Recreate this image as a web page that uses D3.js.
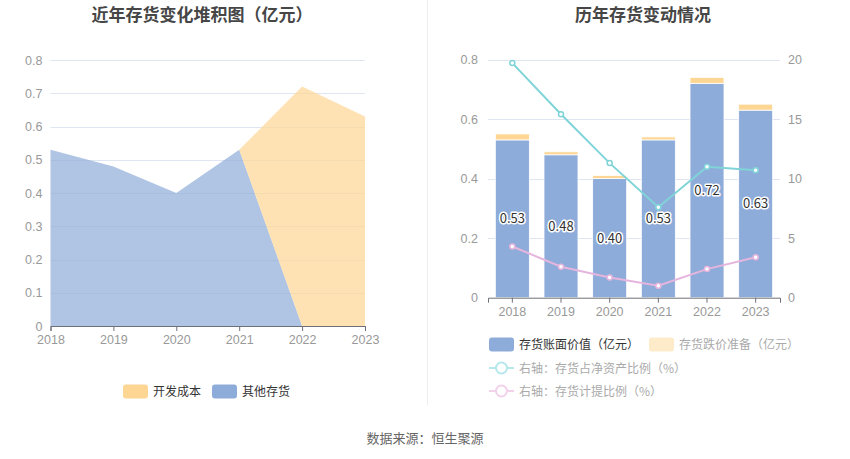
<!DOCTYPE html>
<html><head><meta charset="utf-8">
<script src="https://cdn.jsdelivr.net/npm/d3@7/dist/d3.min.js"></script>
<style>body{margin:0;background:#fff;font-family:"Noto Sans CJK SC","Noto Sans",sans-serif;}</style>
</head><body><svg id="c" width="850" height="459"></svg>
<script>
const years = ["2018","2019","2020","2021","2022","2023"];
// left stacked area (亿元)
const otherInv = [0.53,0.48,0.40,0.53,0,0];
const devCost = [0,0,0,0,0.72,0.63];
// right bars
const bookValue = [0.53,0.48,0.40,0.53,0.72,0.63];
const provision = [0.02,0.01,0.01,0.01,0.02,0.02];
const netAssetRatio = [19.7,15.4,11.3,7.6,11.0,10.7];
const provisionRatio = [4.3,2.6,1.7,1.0,2.4,3.4];
const leftTicks = [0,0.1,0.2,0.3,0.4,0.5,0.6,0.7,0.8];
const rightLTicks = [0,0.2,0.4,0.6,0.8];
const rightRTicks = [0,5,10,15,20];

const svg = d3.select("#c");
const FONT = '"Noto Sans CJK SC","Noto Sans",sans-serif';
const NUMF = '"Liberation Sans","Noto Sans",sans-serif';
const grid = "#e0e6f1", axisC = "#6e7079", lab = "#999";
const blue = "#8eacd9", orange = "#fdd694", cyan = "#80d4d8", pink = "#e6b5dd";

// titles
svg.append("text").attr("x",202).attr("y",21).attr("text-anchor","middle")
  .attr("font-size",17).attr("font-weight","bold").attr("fill","#464646").attr("font-family",FONT)
  .text("近年存货变化堆积图（亿元）");
svg.append("text").attr("x",643).attr("y",21).attr("text-anchor","middle")
  .attr("font-size",17).attr("font-weight","bold").attr("fill","#464646").attr("font-family",FONT)
  .text("历年存货变动情况");
// divider
svg.append("line").attr("x1",427.5).attr("x2",427.5).attr("y1",0).attr("y2",405).attr("stroke","#eeeeee");

// ---- LEFT ----
const xL = d3.scalePoint().domain(years).range([50.5,365]);
const yL = d3.scaleLinear().domain([0,0.8]).range([326,60]);
const gL = svg.append("g");
gL.selectAll("line.g").data(leftTicks.slice(1)).join("line")
  .attr("x1",50.5).attr("x2",365).attr("y1",d=>Math.round(yL(d))+0.5).attr("y2",d=>Math.round(yL(d))+0.5)
  .attr("stroke",grid);
const stackData = years.map((y,i)=>({year:y, other:otherInv[i], dev:devCost[i]}));
const series = d3.stack().keys(["other","dev"])(stackData);
const area = d3.area().x(d=>xL(d.data.year)).y0(d=>yL(d[0])).y1(d=>yL(d[1]));
const colorsL = {other:blue, dev:orange};
series.forEach(s=>{
  let pts = s;
  if (s.key==="dev") pts = s.filter((d,i)=>i>=3);
  gL.append("path").datum(pts).attr("d",area).attr("fill",colorsL[s.key]).attr("fill-opacity",0.7);
});
gL.append("g").attr("transform","translate(0,326)")
  .call(d3.axisBottom(xL).tickSize(5).tickPadding(4))
  .call(g=>{g.select(".domain").attr("stroke",axisC);g.selectAll(".tick line").attr("stroke",axisC);
    g.selectAll("text").attr("fill",lab).attr("font-size",12.5).attr("font-family",NUMF);});
gL.append("g").attr("transform","translate(50.5,0)")
  .call(d3.axisLeft(yL).tickValues(leftTicks).tickFormat(d=>d===0?"0":d3.format(".1f")(d)).tickSize(0).tickPadding(8))
  .call(g=>{g.select(".domain").remove();
    g.selectAll("text").attr("fill",lab).attr("font-size",12.5).attr("font-family",NUMF);});
// left legend
const legL = [{n:"开发成本",c:orange,x:123},{n:"其他存货",c:blue,x:212}];
legL.forEach(l=>{
  svg.append("rect").attr("x",l.x).attr("y",384.5).attr("width",25).attr("height",14).attr("rx",3).attr("fill",l.c);
  svg.append("text").attr("x",l.x+30).attr("y",395.5).attr("font-size",12).attr("fill","#333").attr("font-family",FONT).text(l.n);
});

// ---- RIGHT ----
const xR = d3.scaleBand().domain(years).range([488,780]);
const yR = d3.scaleLinear().domain([0,0.8]).range([297.7,59.5]);
const yR2 = d3.scaleLinear().domain([0,20]).range([297.7,59.5]);
const gR = svg.append("g");
gR.selectAll("line.g").data(rightLTicks.slice(1)).join("line")
  .attr("x1",488).attr("x2",780).attr("y1",d=>Math.round(yR(d))+0.5).attr("y2",d=>Math.round(yR(d))+0.5)
  .attr("stroke",grid);
const bw = 34;
years.forEach((y,i)=>{
  const cx = xR(y)+xR.bandwidth()/2;
  gR.append("rect").attr("x",cx-bw/2).attr("width",bw).attr("y",yR(bookValue[i])).attr("height",yR(0)-yR(bookValue[i]))
    .attr("fill",blue).attr("stroke","#fff").attr("stroke-width",0.8);
  gR.append("rect").attr("x",cx-bw/2).attr("width",bw).attr("y",yR(bookValue[i]+provision[i])).attr("height",yR(bookValue[i])-yR(bookValue[i]+provision[i]))
    .attr("fill",orange).attr("stroke","#fff").attr("stroke-width",0.8);
});
gR.append("g").attr("transform","translate(0,297.7)")
  .call(d3.axisBottom(xR).tickSize(5).tickPadding(4))
  .call(g=>{g.select(".domain").attr("stroke",axisC);g.selectAll(".tick line").attr("stroke",axisC);
    g.selectAll("text").attr("fill",lab).attr("font-size",12.5).attr("font-family",NUMF);});
gR.append("g").attr("transform","translate(488,0)")
  .call(d3.axisLeft(yR).tickValues(rightLTicks).tickFormat(d=>d===0?"0":d3.format(".1f")(d)).tickSize(0).tickPadding(10))
  .call(g=>{g.select(".domain").remove();
    g.selectAll("text").attr("fill",lab).attr("font-size",12.5).attr("font-family",NUMF);});
gR.append("g").attr("transform","translate(780,0)")
  .call(d3.axisRight(yR2).tickValues(rightRTicks).tickSize(0).tickPadding(8))
  .call(g=>{g.select(".domain").remove();
    g.selectAll("text").attr("fill",lab).attr("font-size",12.5).attr("font-family",NUMF);});
const line = d3.line().x((d,i)=>xR(years[i])+xR.bandwidth()/2).y(d=>yR2(d));
[[netAssetRatio,cyan],[provisionRatio,pink]].forEach(([arr,c])=>{
  gR.append("path").datum(arr).attr("d",line).attr("fill","none").attr("stroke",c).attr("stroke-width",2);
  gR.selectAll(null).data(arr).join("circle").attr("cx",(d,i)=>xR(years[i])+xR.bandwidth()/2).attr("cy",d=>yR2(d))
    .attr("r",2.5).attr("fill","#fff").attr("stroke",c).attr("stroke-width",1.5);
});
// bar labels
years.forEach((y,i)=>{
  const cx = xR(y)+xR.bandwidth()/2, cy = (yR(bookValue[i])+yR(0))/2;
  gR.append("text").attr("x",cx).attr("y",cy).attr("dy","0.35em").attr("text-anchor","middle")
    .attr("font-size",13).attr("font-family",FONT).attr("fill","#333").attr("stroke","#fff").attr("stroke-width",3)
    .attr("paint-order","stroke").attr("stroke-linejoin","round").text(d3.format(".2f")(bookValue[i]));
});
// right legend
const lg = svg.append("g").attr("font-family",FONT).attr("font-size",12);
lg.append("rect").attr("x",489).attr("y",337.5).attr("width",25).attr("height",14).attr("rx",3).attr("fill",blue);
lg.append("text").attr("x",519).attr("y",348.5).attr("fill","#333").text("存货账面价值（亿元）");
lg.append("rect").attr("x",649).attr("y",337.5).attr("width",25).attr("height",14).attr("rx",3).attr("fill","#feebc9");
lg.append("text").attr("x",679).attr("y",348.5).attr("fill","#aaa").text("存货跌价准备（亿元）");
[[368,"#b5e8ea","右轴：存货占净资产比例（%）"],[391,"#f2d2ea","右轴：存货计提比例（%）"]].forEach(([y,c,t])=>{
  lg.append("line").attr("x1",489).attr("x2",514).attr("y1",y).attr("y2",y).attr("stroke",c).attr("stroke-width",2);
  lg.append("circle").attr("cx",501.5).attr("cy",y).attr("r",5.5).attr("fill","#fff").attr("stroke",c).attr("stroke-width",2);
  lg.append("text").attr("x",519).attr("y",y+4.5).attr("fill","#aaa").text(t);
});
// source
svg.append("text").attr("x",425).attr("y",443).attr("text-anchor","middle").attr("font-size",13)
  .attr("fill","#666").attr("font-family",FONT).text("数据来源：恒生聚源");
</script></body></html>
